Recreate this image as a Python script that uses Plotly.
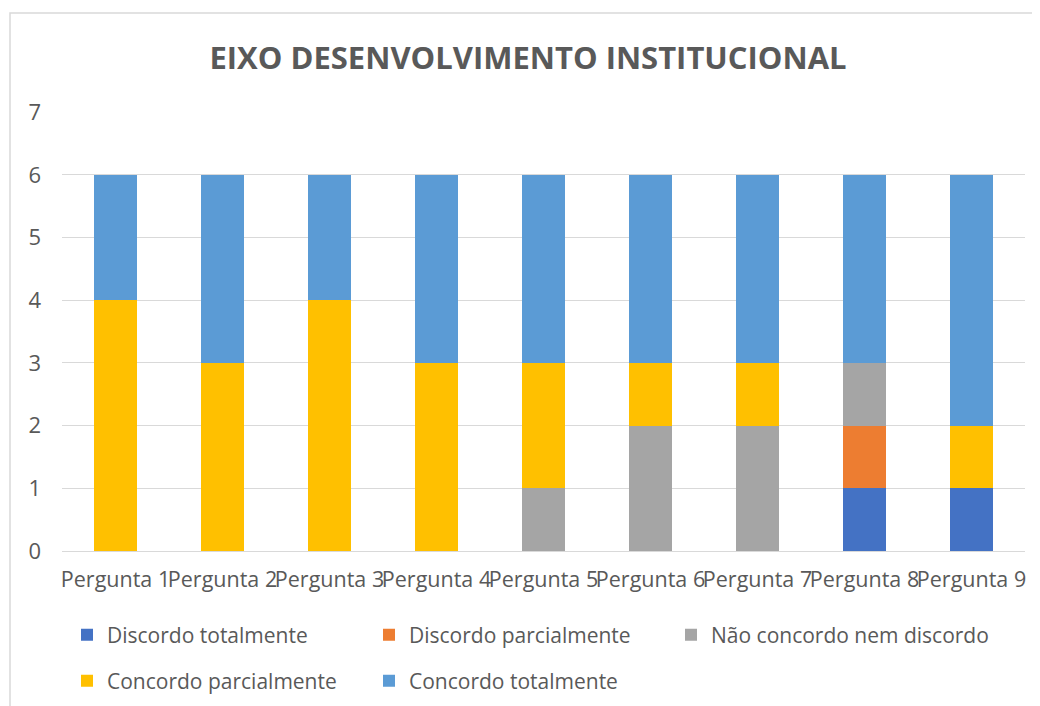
import plotly.graph_objects as go

# Data
perguntas = ["Pergunta 1", "Pergunta 2", "Pergunta 3", "Pergunta 4", "Pergunta 5",
             "Pergunta 6", "Pergunta 7", "Pergunta 8", "Pergunta 9"]
discordo_totalmente = [0, 0, 0, 0, 0, 0, 0, 1, 1]
discordo_parcialmente = [0, 0, 0, 0, 0, 0, 0, 1, 0]
nao_concordo_nem_discordo = [0, 0, 0, 0, 1, 2, 2, 1, 0]
concordo_parcialmente = [4, 3, 4, 3, 2, 1, 1, 0, 1]
concordo_totalmente = [2, 3, 2, 3, 3, 3, 3, 3, 4]

series = [
    ("Discordo totalmente", discordo_totalmente, "#4472C4", "legend"),
    ("Discordo parcialmente", discordo_parcialmente, "#ED7D31", "legend"),
    ("Não concordo nem discordo", nao_concordo_nem_discordo, "#A5A5A5", "legend3"),
    ("Concordo parcialmente", concordo_parcialmente, "#FFC000", "legend2"),
    ("Concordo totalmente", concordo_totalmente, "#5B9BD5", "legend2"),
]

FONT = "Open Sans"
GREY = "#595959"

fig = go.Figure()
for name, vals, color, leg in series:
    fig.add_trace(go.Bar(
        x=perguntas, y=vals, name=name,
        marker=dict(color=color, line=dict(width=0)),
        legend=leg,
    ))

W, H = 1040, 706
L, R, T, B = 54, 23, 104, 163


def legend_row(x_px, y_px, entry=257):
    return dict(orientation="h", xref="container", yref="container",
                x=x_px / W, xanchor="left", y=1 - y_px / H, yanchor="middle",
                entrywidth=entry, entrywidthmode="pixels",
                font=dict(size=21, color=GREY), traceorder="normal")


fig.update_layout(
    width=W, height=H,
    barmode="stack",
    bargap=0.6,
    plot_bgcolor="white",
    paper_bgcolor="white",
    margin=dict(l=L, r=R, t=T, b=B),
    font=dict(family=FONT, color=GREY, size=20),
    title=dict(text="<b>EIXO DESENVOLVIMENTO INSTITUCIONAL</b>",
               x=0.5, xanchor="center", y=1 - 50 / H, yanchor="middle",
               font=dict(size=31, color=GREY, family=FONT)),
    xaxis=dict(showgrid=False, showline=True, linecolor="#D9D9D9", linewidth=1,
               tickangle=0, tickfont=dict(size=21.5, color=GREY), ticks="",
               ticklabelstandoff=9),
    yaxis=dict(range=[0, 7.005], tickvals=[0, 1, 2, 3, 4, 5, 6, 7],
               showgrid=True, gridcolor="#D9D9D9",
               gridwidth=1, zeroline=False, showline=False, ticks="",
               tickfont=dict(size=22, color=GREY), ticklabelstandoff=20),
    legend=legend_row(59, 627),
    legend2=legend_row(59, 673),
    legend3=legend_row(663, 627, entry=320),
)

# chart area border (extends past the bottom and right edges of the image)
pw, ph = W - L - R, H - T - B
fig.add_shape(type="rect", xref="paper", yref="paper",
              x0=(2 - L) / pw, x1=(W + 10 - L) / pw,
              y0=(H - B - (H + 10)) / ph, y1=(H - B - 5) / ph,
              line=dict(color="#D9D9D9", width=1.5), fillcolor="rgba(0,0,0,0)",
              layer="below")

fig.write_html("out.html")
